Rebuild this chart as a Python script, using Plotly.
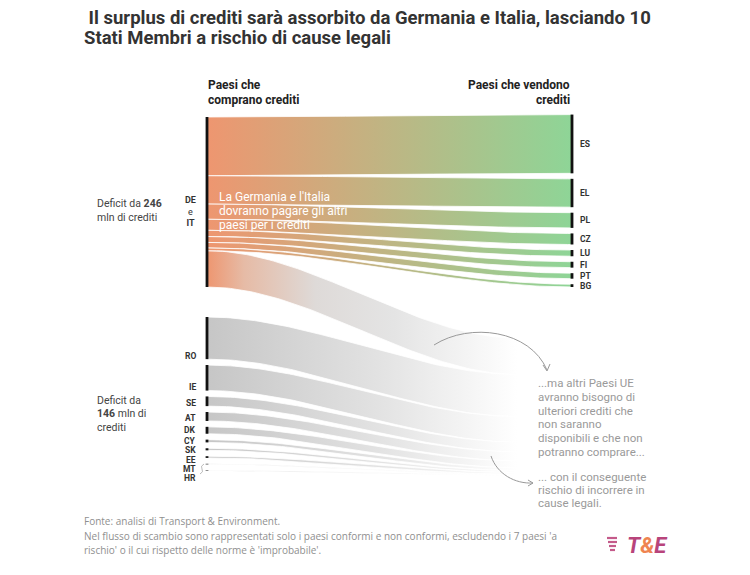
import numpy as np
import plotly.graph_objects as go

# valori in mln di crediti
sellers = ['ES', 'EL', 'PL', 'CZ', 'LU', 'FI', 'PT', 'BG']
sold = [85, 41, 22, 16, 9, 8.5, 8, 4]

de_it_label = '<b>DE</b><br>e<br><b>IT</b>'
de_it_deficit = 246
de_it_unmet = 52.5

others = ['RO', 'IE', 'SE', 'AT', 'DK', 'CY', 'SK', 'EE', 'MT', 'HR']
others_deficit = [61, 37, 14, 13, 10, 4, 3, 2.5, 0.8, 0.7]
others_total = 146

W, H = 750, 575
OFF = 8                    # page margin around the plot div
XL, XR = 207, 572          # window pixel columns of the node bars
Y0, PPU = 117, 0.691       # window pixel of value 0, pixels per mln
RIGHT_TOP, RIGHT_GAP = -3.5, 8
LEFT_GAP, GROUP_GAP = 8.5, 43.4
SINK_X, SINK_TOP = 0.85, 320
LABEL_STEP = 13.5

ORANGE, GREEN = '#ee9670', '#8ed597'
FONT = 'Roboto'


def px(x):
    return (x - OFF) / W


def py(y):
    return 1 - (y - OFF) / H


def ribbon(x0, a0, a1, x1, b0, b1, n=80):
    t = np.linspace(0, 1, n)
    s = 3 * t ** 2 - 2 * t ** 3
    xs = x0 + (x1 - x0) * t
    top = a0 + (b0 - a0) * s
    bot = a1 + (b1 - a1) * s
    return np.concatenate([xs, xs[::-1]]), np.concatenate([top, bot[::-1]])


fig = go.Figure()


def add_ribbon(x, y, scale, stop):
    fig.add_trace(go.Scatter(
        x=x, y=y, mode='lines', fill='toself',
        line=dict(color='white', width=0.8),
        fillgradient=dict(type='horizontal', colorscale=scale, start=0, stop=stop),
        hoverinfo='skip', showlegend=False))


gray_scale = [[0, '#c6c6c6'], [0.55, '#e2e2e2'], [1, '#ffffff']]
deit_gray_scale = [[0, ORANGE], [0.12, '#e6bba6'], [0.35, '#dedad8'],
                   [0.6, '#e4e4e4'], [1, '#ffffff']]

# others -> nothing (fading)
o_top = de_it_deficit + GROUP_GAP
o_start, o_sink = [], []
acc, sink_acc = o_top, SINK_TOP + de_it_unmet
for v in others_deficit:
    o_start.append(acc)
    o_sink.append(sink_acc)
    acc += v + LEFT_GAP
    sink_acc += v
for a, s, v in zip(o_start, o_sink, others_deficit):
    x, y = ribbon(0, a, a + v, SINK_X, s, s + v)
    add_ribbon(x, y, gray_scale, SINK_X)

# DE/IT unmet part
sold_sum = sum(sold)
x, y = ribbon(0, sold_sum, sold_sum + de_it_unmet, SINK_X, SINK_TOP, SINK_TOP + de_it_unmet)
add_ribbon(x, y, deit_gray_scale, SINK_X)

# DE/IT -> sellers
r_start = []
acc_l, acc_r = 0, RIGHT_TOP
for v in sold:
    r_start.append(acc_r)
    x, y = ribbon(0, acc_l, acc_l + v, 1, acc_r, acc_r + v)
    add_ribbon(x, y, [[0, ORANGE], [1, GREEN]], 1)
    acc_l += v
    acc_r += v + RIGHT_GAP

# node bars
nx, ny = [0, 0, None], [0, de_it_deficit, None]
for a, v in zip(o_start, others_deficit):
    nx += [0, 0, None]
    ny += [a, a + v, None]
for a, v in zip(r_start, sold):
    nx += [1, 1, None]
    ny += [a, a + v, None]
fig.add_trace(go.Scatter(x=nx, y=ny, mode='lines', line=dict(color='#111', width=2.8),
                         hoverinfo='skip', showlegend=False))

ann = []
lab_font = dict(family=FONT, size=8.5, color='#333')
for name, a, v in zip(sellers, r_start, sold):
    ann.append(dict(x=1, y=a + v / 2, xref='x', yref='y', text='<b>%s</b>' % name,
                    xanchor='left', yanchor='middle', xshift=6, font=lab_font))
prev = -1e9
for name, a, v in zip(others, o_start, others_deficit):
    ly = max(a + v / 2, a + v - 5)
    ly = max(ly, prev + LABEL_STEP)
    prev = ly
    ann.append(dict(x=0, y=ly, xref='x', yref='y', text='<b>%s</b>' % name,
                    xanchor='right', yanchor='middle', xshift=-9, font=lab_font))
ann.append(dict(x=0, y=de_it_deficit / 2, xref='x', yref='y', text=de_it_label,
                xanchor='center', yanchor='middle', xshift=-17, yshift=-10,
                font=dict(family=FONT, size=9, color='#333')))


def text_block(lines, x, y_first, step, anchor, font):
    for i, line in enumerate(lines):
        ann.append(dict(x=px(x), y=py(y_first + i * step), text=line, xanchor=anchor,
                        yanchor='middle', font=font))


text_block(['<b> Il surplus di crediti sarà assorbito da Germania e Italia, lasciando 10</b>',
            '<b>Stati Membri a rischio di cause legali</b>'],
           82, 18, 20, 'left', dict(family=FONT, size=18.5, color='#333'))
head = dict(family=FONT, size=12, color='#222')
text_block(['<b>Paesi che</b>', '<b>comprano crediti</b>'], 206, 85, 14.5, 'left', head)
text_block(['<b>Paesi che vendono</b>', '<b>crediti</b>'], 572, 85, 14.5, 'right', head)
grp = dict(family=FONT, size=10.5, color='#444')
text_block(['Deficit da <b>%d</b>' % de_it_deficit, 'mln di crediti'], 95, 203, 14, 'left', grp)
text_block(['Deficit da', '<b>%d</b> mln di' % others_total, 'crediti'], 95, 400, 13.5, 'left', grp)
text_block(["La Germania e l'Italia", 'dovranno pagare gli altri', 'paesi per i crediti'],
           217, 197, 14, 'left', dict(family=FONT, size=12, color='white'))
note = dict(family=FONT, size=11.5, color='#9a9a9a')
text_block(['...ma altri Paesi UE', 'avranno bisogno di', 'ulteriori crediti che', 'non saranno',
            'disponibili e che non', 'potranno comprare...'], 536, 383, 13.8, 'left', note)
text_block(['... con il conseguente', 'rischio di incorrere in', 'cause legali.'],
           536, 477, 13.2, 'left', note)
text_block(['Fonte: analisi di Transport & Environment.',
            "Nel flusso di scambio sono rappresentati solo i paesi conformi e non conformi, escludendo i 7 paesi 'a",
            "rischio' o il cui rispetto delle norme è 'improbabile'."],
           82, 521, 14.5, 'left', dict(family='Open Sans', size=10, color='#8f8f8f'))
ann.append(dict(x=px(625), y=py(545), text="<b><i>T<span style='color:#ef8450'>&</span>E</i></b>",
                xanchor='left', yanchor='middle', font=dict(family=FONT, size=22, color='#b8447b')))
for a in ann:
    a.setdefault('xref', 'paper')
    a.setdefault('yref', 'paper')
    a['showarrow'] = False

shapes = []
arrow = dict(color='#999', width=1)
shapes.append(dict(type='path', xref='paper', yref='paper', line=arrow,
                   path='M %f %f C %f %f, %f %f, %f %f' % (px(434), py(345), px(470), py(322),
                                                           px(530), py(330), px(547), py(370))))
shapes.append(dict(type='path', xref='paper', yref='paper', line=arrow,
                   path='M %f %f L %f %f L %f %f' % (px(543), py(365), px(547), py(371), px(550), py(364))))
shapes.append(dict(type='path', xref='paper', yref='paper', line=arrow,
                   path='M %f %f C %f %f, %f %f, %f %f' % (px(491), py(456), px(497), py(474),
                                                           px(515), py(484), px(533), py(483))))
shapes.append(dict(type='path', xref='paper', yref='paper', line=arrow,
                   path='M %f %f L %f %f L %f %f' % (px(528), py(480), px(533), py(483), px(528), py(486))))
# small bracket joining MT and HR
shapes.append(dict(type='path', xref='paper', yref='paper', line=dict(color='#aaa', width=0.8),
                   path='M %f %f Q %f %f, %f %f Q %f %f, %f %f' % (px(204), py(464), px(200), py(466),
                                                                  px(202), py(469), px(204), py(472),
                                                                  px(200), py(474))))
# logo stripes
for i, (a, b) in enumerate([(607, 617), (608, 617), (609, 616), (610, 615)]):
    shapes.append(dict(type='line', xref='paper', yref='paper', x0=px(a), x1=px(b),
                       y0=py(538 + i * 4), y1=py(538 + i * 4), line=dict(color='#c45a8a', width=2.2)))
# small pink mark
shapes.append(dict(type='rect', xref='paper', yref='paper', x0=px(82), x1=px(94), y0=py(0), y1=py(2),
                   line=dict(width=0), fillcolor='#e5a5c5'))

fig.update_layout(
    width=W, height=H, margin=dict(l=0, r=0, t=0, b=0),
    plot_bgcolor='white', paper_bgcolor='white',
    xaxis=dict(range=[-(XL - OFF) / (XR - XL), (W - (XL - OFF)) / (XR - XL)],
               visible=False, fixedrange=True),
    yaxis=dict(range=[(H - (Y0 - OFF)) / PPU, -(Y0 - OFF) / PPU], visible=False, fixedrange=True),
    annotations=ann, shapes=shapes,
    font=dict(family=FONT),
)

fig.write_html('out.html')
